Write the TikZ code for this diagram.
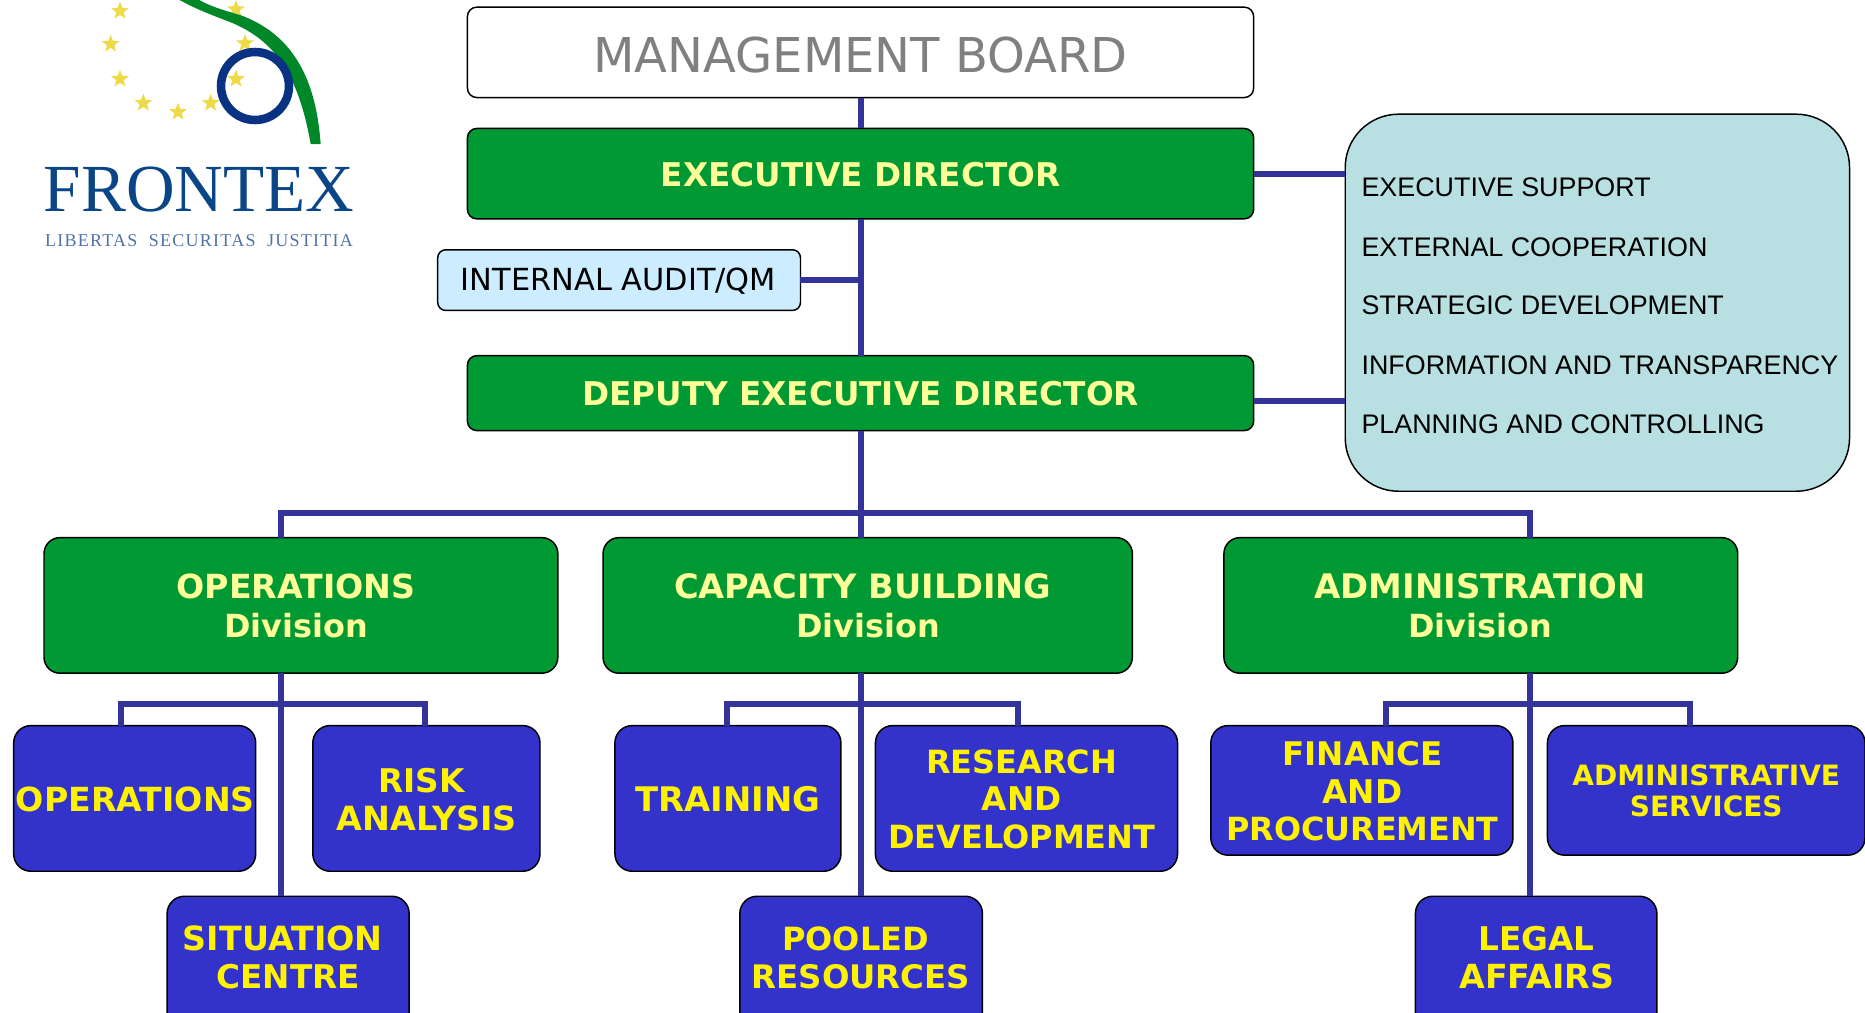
\documentclass[tikz,border=0pt]{standalone}
\usepackage{fontspec}
\usetikzlibrary{shapes.geometric}
\setmainfont{DejaVu Sans}
\newfontfamily\arialish{Liberation Sans}
\newfontfamily\timesish{Liberation Serif}
\definecolor{fxgreen}{RGB}{0,153,51}
\definecolor{fxblue}{RGB}{51,51,204}
\definecolor{fxline}{RGB}{51,51,153}
\definecolor{fxteal}{RGB}{184,224,226}
\definecolor{fxsky}{RGB}{204,236,255}
\definecolor{fxpale}{RGB}{255,255,153}
\definecolor{fxgray}{RGB}{128,128,128}
\definecolor{fxnavy}{RGB}{10,70,135}
\definecolor{fxmotto}{RGB}{80,115,165}
\definecolor{fxlogogreen}{RGB}{0,135,40}
\definecolor{fxring}{RGB}{10,50,130}
\definecolor{fxstar}{RGB}{238,218,70}
\tikzset{
 orgshape/.style={draw=black,line width=1.1pt,inner sep=0pt,outer sep=0pt,rectangle},
 whitebox/.style={orgshape,fill=white,rounded corners=7pt},
 greenbox/.style={orgshape,fill=fxgreen,rounded corners=7pt},
 divbox/.style={orgshape,fill=fxgreen,rounded corners=12pt},
 bluebox/.style={orgshape,fill=fxblue,rounded corners=13pt},
 skybox/.style={orgshape,fill=fxsky,rounded corners=6pt},
 tealbox/.style={orgshape,fill=fxteal,rounded corners=40pt},
 greentext/.style={text=fxpale,inner sep=0pt,align=center,font=\fontsize{24.5}{29.4}\selectfont\bfseries},
 bluetext/.style={text=yellow,inner sep=0pt,align=center,font=\fontsize{24.5}{28.3}\selectfont\bfseries},
 smalltext/.style={text=yellow,inner sep=0pt,align=center,font=\fontsize{21}{23.2}\selectfont\bfseries},
 boardtext/.style={text=fxgray,inner sep=0pt,font=\fontsize{36}{40}\selectfont},
 audittext/.style={text=black,inner sep=0pt,font=\fontsize{22.8}{27}\selectfont},
 sidetext/.style={text=black,inner sep=0pt,anchor=west,font=\arialish\fontsize{20.15}{24}\selectfont},
 link/.style={draw=fxline,line width=4.5pt},
 logostar/.style={star,star points=5,star point ratio=2.4,fill=fxstar,minimum size=14pt,inner sep=0pt}
}
\newcommand{\orgbox}[9]{%
 \node[#6,minimum width={(#4-#2)*0.89206pt},minimum height={(#5-#3)*0.89206pt}] (#1) at ({(#2+#4)/2},{(#3+#5)/2}) {};
 \node[#7] (#1-t) at (#8,#9)}
\newcommand{\fitsize}[2]{{\fontsize{#1}{29.4}\selectfont #2}}
\begin{document}
\begin{tikzpicture}[x=0.89206pt,y=-0.89206pt]
\useasboundingbox (0,0) rectangle (1568,851);
\clip (0,0) rectangle (1568,851);
% logo
\begin{scope}[x=0.25pt,y=-0.25pt]
 \foreach \sx/\sy in {360/33,332/132,360/237,430/309,534/336,632/309,708/237,735/130,708/28}
  \node[logostar] at (\sx,\sy) {};
 \fill[fxlogogreen] (530,-5) .. controls (590,30) and (650,50) .. (700,70)
   .. controls (800,115) and (890,190) .. (932,432) -- (962,432)
   .. controls (950,270) and (900,110) .. (720,45)
   .. controls (670,30) and (630,20) .. (590,-5) -- cycle;
 \draw[fxring,line width=6.4pt] (765,258) circle (102);
 \node[text=fxnavy,inner sep=0pt,font=\timesish\fontsize{50.5}{50}\selectfont] (fxname) at (597,570) {FRONTEX};
 \node[text=fxmotto,inner sep=0pt,font=\timesish\fontsize{13.5}{14}\selectfont\addfontfeature{LetterSpace=7}] (fxmotto) at (597,723) {LIBERTAS\ \ SECURITAS\ \ JUSTITIA};
\end{scope}
% top column
\orgbox{board}{393}{6}{1054}{82}{whitebox}{boardtext}{723.5}{46} {MANAGEMENT BOARD};
\orgbox{exec}{393}{108}{1054}{184}{greenbox}{greentext}{723.5}{146.7} {EXECUTIVE DIRECTOR};
\orgbox{audit}{368}{210}{673}{261}{skybox}{audittext}{520}{236.5} {INTERNAL AUDIT/QM};
\orgbox{deputy}{393}{299}{1054}{362}{greenbox}{greentext}{723.5}{331} {DEPUTY EXECUTIVE DIRECTOR};
% side panel
\node[tealbox,minimum width={424*0.89206pt},minimum height={317*0.89206pt}] (panel) at (1343,254.5) {};
\node[sidetext] (s1) at (1144.5,157.5) {EXECUTIVE SUPPORT};
\node[sidetext] (s2) at (1144.5,207.5) {EXTERNAL COOPERATION};
\node[sidetext] (s3) at (1144.5,257) {STRATEGIC DEVELOPMENT};
\node[sidetext] (s4) at (1144.5,307) {INFORMATION AND TRANSPARENCY};
\node[sidetext] (s5) at (1144.5,357) {PLANNING AND CONTROLLING};
% divisions
\orgbox{opsdiv}{37}{452}{469}{566}{divbox}{greentext}{249}{509.5} {\fitsize{24.9}{OPERATIONS}\\\fitsize{23.9}{Division}};
\orgbox{capdiv}{507}{452}{952}{566}{divbox}{greentext}{725.5}{509.5} {\fitsize{25.2}{CAPACITY BUILDING}\\\hspace*{8pt}\fitsize{23.9}{Division}};
\orgbox{admdiv}{1029}{452}{1461}{566}{divbox}{greentext}{1244.5}{509.5} {\fitsize{25.4}{ADMINISTRATION}\\\fitsize{23.9}{Division}};
% units
\orgbox{ops}{11.5}{610}{215}{732.5}{bluebox}{bluetext}{113.8}{672} {\fitsize{24.9}{OPERATIONS}};
\orgbox{risk}{263}{610}{454}{732.5}{bluebox}{bluetext}{356.5}{672} {\hspace*{-4pt}RISK\\\hspace*{4pt}\fitsize{25}{ANALYSIS}};
\orgbox{sit}{140.5}{753.5}{344}{880}{bluebox}{bluetext}{240}{805} {\hspace*{-4pt}\fitsize{25}{SITUATION}\\\hspace*{4pt}CENTRE};
\orgbox{train}{517}{610}{707}{732.5}{bluebox}{bluetext}{612}{672} {\fitsize{25.4}{TRAINING}};
\orgbox{rnd}{736}{610}{990}{732.5}{bluebox}{bluetext}{859}{672} {\fitsize{24}{RESEARCH}\\AND\\\fitsize{24}{DEVELOPMENT}};
\orgbox{pool}{622}{753.5}{826}{880}{bluebox}{bluetext}{721.5}{805} {\hspace*{-4pt}\fitsize{24}{POOLED}\\\hspace*{4pt}\fitsize{24.3}{RESOURCES}};
\orgbox{fin}{1018}{610}{1272}{719}{bluebox}{bluetext}{1145.5}{665.3} {\fitsize{24.4}{FINANCE}\\AND\\\fitsize{23.9}{PROCUREMENT}};
\orgbox{admsrv}{1301}{610}{1568}{719}{bluebox}{smalltext}{1434.5}{664.5} {ADMINISTRATIVE\\SERVICES};
\orgbox{legal}{1190}{753.5}{1393}{880}{bluebox}{bluetext}{1292}{805} {\fitsize{24.5}{LEGAL}\\\fitsize{24.9}{AFFAIRS}};
% junctions
\coordinate (spine) at (723.5,431);
\coordinate (busL) at (236.5,431);
\coordinate (busR) at (1286,431);
\coordinate (spineA) at (723.5,235.5);
\coordinate (opsJ) at (236.5,592);
\coordinate (opsL) at (101.7,592);
\coordinate (opsR) at (357,592);
\coordinate (capJ) at (723.5,592);
\coordinate (capL) at (611,592);
\coordinate (capR) at (855.5,592);
\coordinate (admJ) at (1286,592);
\coordinate (admL) at (1165,592);
\coordinate (admR) at (1420.5,592);
% links
\draw[link] (board.south) -- (exec.north);
\draw[link] (exec.south) -- (deputy.north);
\draw[link] (audit.east |- spineA) -- (spineA);
\draw[link] (deputy.south) -- (deputy.south |- capdiv.north);
\draw[link] (exec.east |- 0,146) -- (panel.west |- 0,146);
\draw[link] (deputy.east |- 0,337) -- (panel.west |- 0,337);
\draw[link,line cap=rect] (busL) -- (busR);
\draw[link] (busL) -- (busL |- opsdiv.north);
\draw[link] (busR) -- (busR |- admdiv.north);
\draw[link] (opsJ |- opsdiv.south) -- (opsJ |- sit.north);
\draw[link,line cap=rect] (opsL) -- (opsR);
\draw[link] (opsL) -- (opsL |- ops.north);
\draw[link] (opsR) -- (opsR |- risk.north);
\draw[link] (capJ |- capdiv.south) -- (capJ |- pool.north);
\draw[link,line cap=rect] (capL) -- (capR);
\draw[link] (capL) -- (capL |- train.north);
\draw[link] (capR) -- (capR |- rnd.north);
\draw[link] (admJ |- admdiv.south) -- (admJ |- legal.north);
\draw[link,line cap=rect] (admL) -- (admR);
\draw[link] (admL) -- (admL |- fin.north);
\draw[link] (admR) -- (admR |- admsrv.north);
\end{tikzpicture}
\end{document}
